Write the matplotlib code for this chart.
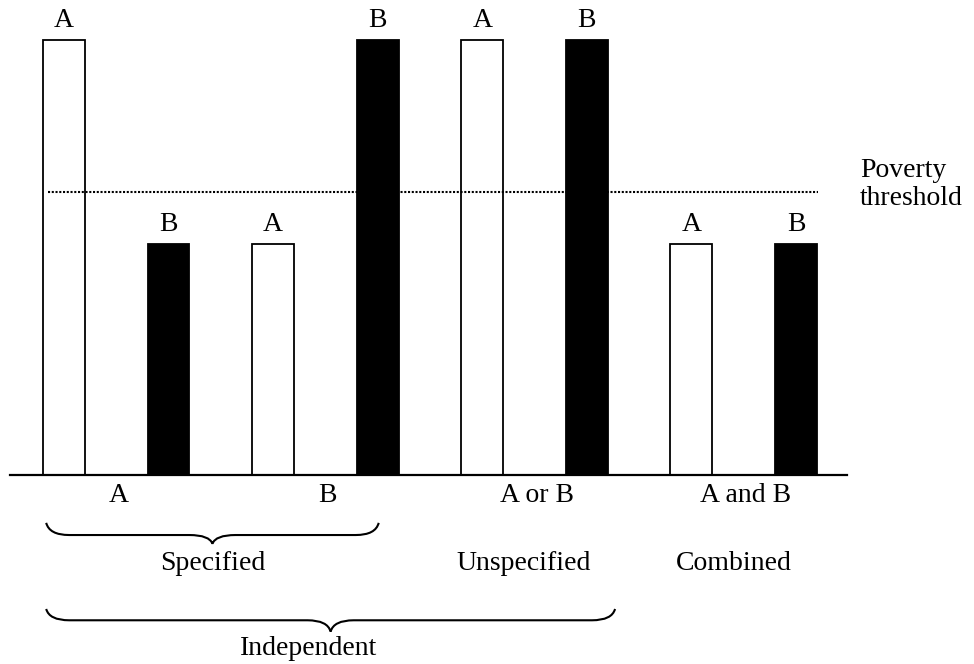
import matplotlib
matplotlib.use("Agg")
import matplotlib.pyplot as plt
from matplotlib.path import Path
from matplotlib.patches import PathPatch

plt.rcParams["font.family"] = ["Liberation Serif", "DejaVu Serif"]

# bar data (income level, arbitrary units)
bar_labels = ["A", "B", "A", "B", "A", "B", "A", "B"]
bar_values = [100, 53, 53, 100, 100, 100, 53, 53]
bar_colors = ["white", "black", "white", "black", "white", "black", "white", "black"]
poverty_line = 65

group_labels = ["A", "B", "A or B", "A and B"]
group_centers = [0.5, 2.5, 4.5, 6.5]
tier1_labels = ["Specified", "Unspecified", "Combined"]
tier1_centers = [1.42, 4.4, 6.41]


def draw_brace(ax, x0, x1, y_end, y_mid, y_tip, curl=0.22):
    xm = (x0 + x1) / 2
    verts = [
        (x0, y_end), (x0 + 0.03, y_mid), (x0 + curl, y_mid),
        (xm - curl, y_mid),
        (xm - 0.03, y_mid), (xm, y_tip),
        (xm + 0.03, y_mid), (xm + curl, y_mid),
        (x1 - curl, y_mid),
        (x1 - 0.03, y_mid), (x1, y_end),
    ]
    codes = [
        Path.MOVETO, Path.CURVE3, Path.CURVE3,
        Path.LINETO,
        Path.CURVE3, Path.CURVE3,
        Path.CURVE3, Path.CURVE3,
        Path.LINETO,
        Path.CURVE3, Path.CURVE3,
    ]
    patch = PathPatch(Path(verts, codes), facecolor="none", edgecolor="black",
                      linewidth=1.5, clip_on=False)
    ax.add_patch(patch)


fig = plt.figure(figsize=(9.74, 6.64), dpi=100)
ax = fig.add_axes([10 / 974, 1 - 475 / 664, 837 / 974, 475 / 664])

positions = list(range(len(bar_values)))
ax.bar(positions, bar_values, width=0.4, color=bar_colors,
       edgecolor="black", linewidth=1.3)

for x, h, label in zip(positions, bar_values, bar_labels):
    ax.text(x, h + 4.6, label, ha="center", va="center", fontsize=20)

ax.hlines(poverty_line, -0.15, 7.21, colors="black", linewidth=1.5,
          linestyles=(0, (1.0, 0.8)))
ax.text(7.61, poverty_line + 1.8, "Poverty\nthreshold", ha="left", va="center",
        fontsize=20, linespacing=1.15, clip_on=False)

for x, label in zip(group_centers, group_labels):
    ax.text(x + 0.02, -4.8, label, ha="center", va="center", fontsize=20)

for x, label in zip(tier1_centers, tier1_labels):
    ax.text(x, -20.3, label, ha="center", va="center", fontsize=20)

draw_brace(ax, -0.17, 3.01, -11.0, -13.8, -15.8)
draw_brace(ax, -0.17, 5.27, -30.8, -33.4, -36.0)
ax.text(2.34, -39.8, "Independent", ha="center", va="center", fontsize=20)

ax.set_xlim(-0.516, 7.488)
ax.set_ylim(0, 109.2)
for side in ["top", "left", "right"]:
    ax.spines[side].set_visible(False)
ax.spines["bottom"].set_linewidth(1.6)
ax.set_xticks([])
ax.set_yticks([])
ax.patch.set_alpha(0)

fig.savefig("out.png", dpi=100)
